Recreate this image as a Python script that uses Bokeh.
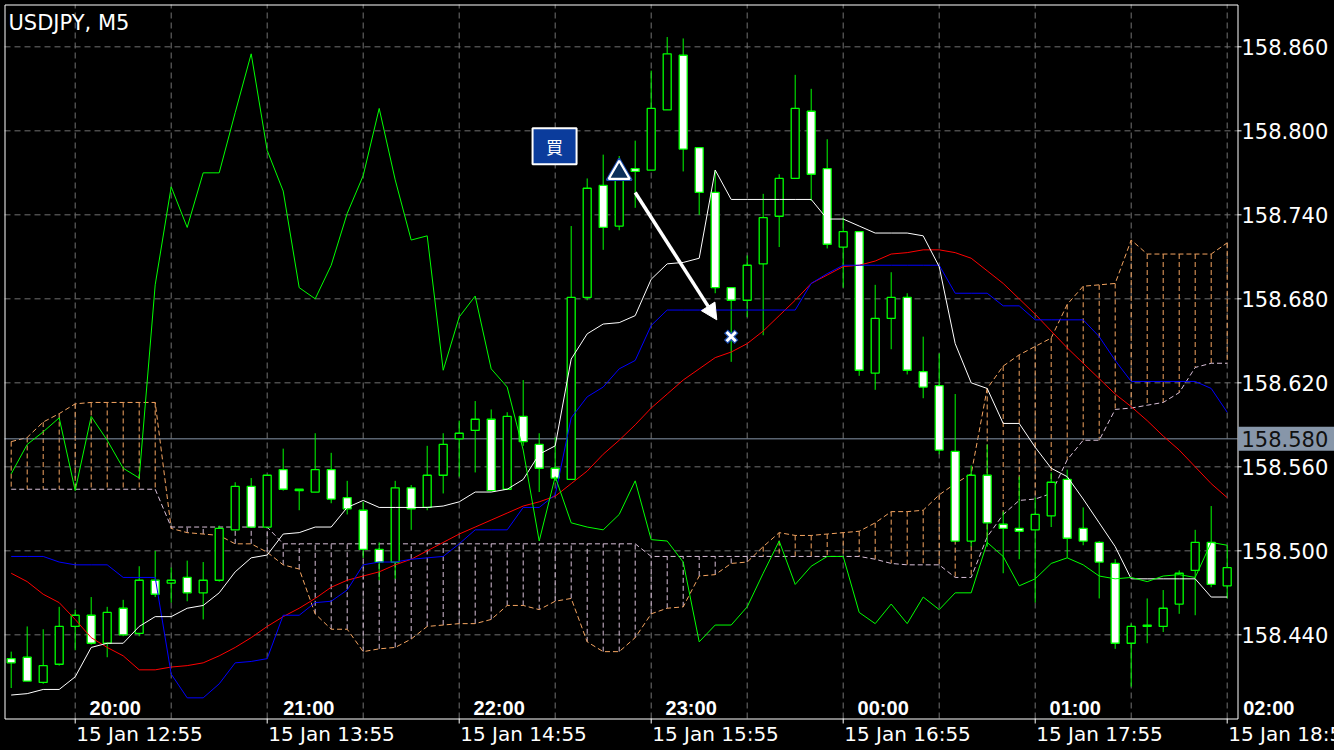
from bokeh.plotting import figure
from bokeh.models import Arrow, NormalHead, Range1d, GlobalInlineStyleSheet
from bokeh.core.properties import value
from bokeh.embed import file_html
from bokeh.resources import INLINE

symbol = "USDJPY, M5"
bar_idx = list(range(77))

opens = [158.423, 158.424, 158.406, 158.419, 158.446, 158.454, 158.434, 158.459, 158.441, 158.479,
         158.477, 158.481, 158.470, 158.479, 158.515, 158.546, 158.517, 158.558, 158.543, 158.542,
         158.558, 158.538, 158.529, 158.501, 158.492, 158.545, 158.531, 158.554, 158.580, 158.586,
         158.594, 158.544, 158.596, 158.576, 158.559, 158.551, 158.681, 158.761, 158.732, 158.773,
         158.772, 158.815, 158.854, 158.788, 158.756, 158.688, 158.679, 158.705, 158.739, 158.766,
         158.814, 158.773, 158.717, 158.728, 158.627, 158.666, 158.681, 158.628, 158.618, 158.571,
         158.507, 158.554, 158.519, 158.516, 158.515, 158.525, 158.551, 158.516, 158.506, 158.491,
         158.434, 158.446, 158.446, 158.462, 158.486, 158.506, 158.475]
highs = [158.428, 158.446, 158.444, 158.460, 158.458, 158.467, 158.460, 158.465, 158.489, 158.500,
         158.488, 158.493, 158.492, 158.518, 158.549, 158.552, 158.554, 158.573, 158.544, 158.584,
         158.570, 158.550, 158.535, 158.506, 158.550, 158.547, 158.575, 158.584, 158.593, 158.607,
         158.601, 158.599, 158.622, 158.584, 158.581, 158.732, 158.766, 158.783, 158.782, 158.793,
         158.843, 158.867, 158.866, 158.788, 158.772, 158.688, 158.711, 158.755, 158.769, 158.840,
         158.830, 158.794, 158.738, 158.728, 158.690, 158.699, 158.684, 158.653, 158.641, 158.612,
         158.561, 158.576, 158.528, 158.553, 158.538, 158.556, 158.558, 158.531, 158.507, 158.494,
         158.448, 158.466, 158.472, 158.486, 158.515, 158.532, 158.504]
lows = [158.402, 158.407, 158.405, 158.418, 158.429, 158.433, 158.424, 158.439, 158.439, 158.467,
        158.463, 158.464, 158.451, 158.478, 158.515, 158.517, 158.517, 158.543, 158.529, 158.542,
        158.534, 158.526, 158.495, 158.479, 158.480, 158.515, 158.529, 158.541, 158.553, 158.556,
        158.543, 158.544, 158.575, 158.542, 158.550, 158.551, 158.679, 158.715, 158.729, 158.745,
        158.772, 158.815, 158.771, 158.740, 158.684, 158.635, 158.667, 158.654, 158.717, 158.766,
        158.750, 158.716, 158.688, 158.625, 158.615, 158.644, 158.626, 158.609, 158.569, 158.507,
        158.503, 158.503, 158.484, 158.494, 158.463, 158.517, 158.495, 158.504, 158.466, 158.430,
        158.403, 158.434, 158.442, 158.455, 158.454, 158.474, 158.466]
closes = [158.420, 158.407, 158.418, 158.446, 158.454, 158.434, 158.456, 158.440, 158.479, 158.469,
          158.479, 158.470, 158.479, 158.516, 158.546, 158.517, 158.554, 158.544, 158.544, 158.558,
          158.537, 158.530, 158.501, 158.492, 158.545, 158.530, 158.554, 158.576, 158.584, 158.594,
          158.543, 158.596, 158.578, 158.559, 158.552, 158.681, 158.759, 158.731, 158.767, 158.771,
          158.816, 158.855, 158.787, 158.756, 158.688, 158.679, 158.704, 158.738, 158.766, 158.816,
          158.769, 158.719, 158.728, 158.629, 158.666, 158.681, 158.629, 158.617, 158.572, 158.507,
          158.554, 158.520, 158.516, 158.514, 158.526, 158.549, 158.509, 158.507, 158.492, 158.434,
          158.446, 158.447, 158.459, 158.484, 158.506, 158.476, 158.488]

tenkan = [158.397, 158.398, 158.401, 158.401, 158.410, 158.431, 158.434, 158.434, 158.446, 158.453,
          158.453, 158.459, 158.461, 158.470, 158.485, 158.495, 158.497, 158.512, 158.513, 158.517,
          158.517, 158.531, 158.536, 158.531, 158.531, 158.531, 158.531, 158.532, 158.535, 158.542,
          158.542, 158.544, 158.551, 158.569, 158.575, 158.637, 158.655, 158.662, 158.663, 158.668,
          158.694, 158.705, 158.706, 158.709, 158.772, 158.751, 158.751, 158.751, 158.751, 158.751,
          158.751, 158.737, 158.737, 158.732, 158.727, 158.727, 158.727, 158.725, 158.703, 158.648,
          158.620, 158.616, 158.591, 158.591, 158.574, 158.559, 158.553, 158.537, 158.520, 158.503,
          158.480, 158.480, 158.480, 158.480, 158.480, 158.467, 158.467]
kijun = [158.496, 158.496, 158.496, 158.492, 158.490, 158.490, 158.490, 158.481, 158.481, 158.481,
         158.412, 158.395, 158.395, 158.405, 158.420, 158.421, 158.423, 158.454, 158.454, 158.463,
         158.464, 158.472, 158.490, 158.492, 158.492, 158.494, 158.495, 158.496, 158.505, 158.515,
         158.515, 158.515, 158.531, 158.531, 158.540, 158.595, 158.610, 158.617, 158.630, 158.636,
         158.661, 158.672, 158.672, 158.672, 158.672, 158.672, 158.672, 158.672, 158.672, 158.672,
         158.691, 158.698, 158.704, 158.704, 158.704, 158.704, 158.704, 158.704, 158.704, 158.684,
         158.684, 158.684, 158.675, 158.675, 158.665, 158.665, 158.665, 158.665, 158.653, 158.636,
         158.621, 158.621, 158.621, 158.621, 158.621, 158.616, 158.599]
ma_red = [158.484, 158.478, 158.469, 158.463, 158.451, 158.438, 158.431, 158.425, 158.415, 158.415,
          158.417, 158.418, 158.420, 158.425, 158.431, 158.438, 158.446, 158.453, 158.459, 158.466,
          158.474, 158.479, 158.482, 158.485, 158.490, 158.494, 158.500, 158.506, 158.512, 158.517,
          158.522, 158.527, 158.532, 158.535, 158.539, 158.548, 158.557, 158.569, 158.579, 158.590,
          158.602, 158.612, 158.622, 158.630, 158.638, 158.642, 158.648, 158.657, 158.668, 158.679,
          158.691, 158.697, 158.703, 158.704, 158.707, 158.712, 158.713, 158.715, 158.715, 158.713,
          158.709, 158.700, 158.691, 158.680, 158.669, 158.657, 158.645, 158.634, 158.623, 158.612,
          158.603, 158.593, 158.582, 158.572, 158.560, 158.548, 158.538]
chikou = [158.555, 158.576, 158.585, 158.595, 158.543, 158.596, 158.579, 158.559, 158.552, 158.690,
          158.760, 158.731, 158.770, 158.770, 158.813, 158.855, 158.786, 158.757, 158.688, 158.680,
          158.704, 158.741, 158.768, 158.816, 158.765, 158.722, 158.725, 158.629, 158.667, 158.682,
          158.630, 158.617, 158.572, 158.507, 158.553, 158.520, 158.517, 158.515, 158.526, 158.550,
          158.508, 158.507, 158.492, 158.435, 158.447, 158.447, 158.460, 158.484, 158.507, 158.476,
          158.489, 158.496, 158.496, 158.456, 158.448, 158.462, 158.448, 158.467, 158.458, 158.470,
          158.470, 158.506, 158.496, 158.475, 158.480, 158.491, 158.495, 158.490, 158.482, 158.480,
          158.481, 158.478, 158.482, 158.483, 158.481, 158.506, 158.504]
span_a = [158.578, 158.581, 158.592, 158.598, 158.605, 158.606, 158.606, 158.606, 158.606, 158.606,
          158.516, 158.513, 158.512, 158.511, 158.505, 158.505, 158.499, 158.490, 158.487, 158.455,
          158.444, 158.444, 158.428, 158.430, 158.431, 158.437, 158.446, 158.447, 158.448, 158.448,
          158.451, 158.461, 158.461, 158.458, 158.464, 158.466, 158.435, 158.428, 158.428, 158.438,
          158.455, 158.459, 158.460, 158.482, 158.483, 158.491, 158.492, 158.503, 158.513, 158.511,
          158.511, 158.512, 158.513, 158.514, 158.520, 158.528, 158.528, 158.529, 158.540, 158.548,
          158.555, 158.616, 158.632, 158.640, 158.646, 158.652, 158.676, 158.689, 158.690, 158.691,
          158.722, 158.712, 158.712, 158.712, 158.712, 158.712, 158.720]
span_b = [158.544, 158.544, 158.544, 158.544, 158.544, 158.544, 158.544, 158.544, 158.544, 158.544,
          158.517, 158.517, 158.517, 158.517, 158.517, 158.517, 158.517, 158.505, 158.505, 158.505,
          158.505, 158.505, 158.505, 158.505, 158.505, 158.505, 158.505, 158.505, 158.505, 158.505,
          158.505, 158.505, 158.505, 158.505, 158.505, 158.505, 158.505, 158.505, 158.505, 158.505,
          158.496, 158.496, 158.496, 158.496, 158.496, 158.496, 158.496, 158.496, 158.496, 158.496,
          158.496, 158.496, 158.496, 158.496, 158.494, 158.491, 158.490, 158.490, 158.490, 158.481,
          158.481, 158.510, 158.526, 158.536, 158.537, 158.541, 158.565, 158.579, 158.579, 158.601,
          158.602, 158.604, 158.606, 158.613, 158.631, 158.634, 158.634]

price_ticks = [158.44, 158.50, 158.56, 158.62, 158.68, 158.74, 158.80, 158.86]
price_labels = ["158.440", "158.500", "158.560", "158.620", "158.680", "158.740", "158.800", "158.860"]
date_tick_idx = [4, 16, 28, 40, 52, 64, 76]
date_labels = ["15 Jan 12:55", "15 Jan 13:55", "15 Jan 14:55", "15 Jan 15:55",
               "15 Jan 16:55", "15 Jan 17:55", "15 Jan 18:55"]
grid_idx = [4, 10, 16, 22, 28, 34, 40, 46, 52, 58, 64, 70, 76]
local_pos = [6.5, 18.6, 30.5, 42.5, 54.5, 66.5, 78.6]
local_labels = ["20:00", "21:00", "22:00", "23:00", "00:00", "01:00", "02:00"]
last_price = 158.580
last_label = "158.580"
buy_idx, buy_price = 38, 158.770
exit_idx, exit_price = 45, 158.653
arrow_from = (39.0, 158.756)
arrow_to = (44.1, 158.665)
buy_box = (33.96, 158.789)

# ---- layout: chart window (bars / prices) and pixel scale ----
PXB = 16.0      # pixels per bar
PXP = 1400.0    # pixels per 1.0 of price
X_LO, X_HI = -0.41875, 76.64375
P_LO, P_HI = 158.380243, 158.890243
W, H = 1334, 750
M_L, M_R, M_T, M_B = 4, 97, 4, 32   # canvas margins around the chart window


def dx(px):
    return px / PXB


def dp(px):
    return px / PXP


GREEN = "#00ff00"
ORANGE = "#f4a460"
THISTLE = "#d8bfd8"
GRID = "#707070"

p = figure(width=W, height=H, output_backend="svg", toolbar_location=None,
           x_range=Range1d(X_LO - dx(M_L), X_HI + dx(M_R)),
           y_range=Range1d(P_LO - dp(M_B), P_HI + dp(M_T)),
           x_axis_location=None, y_axis_location=None, title_location=None,
           background_fill_color="black", border_fill_color="black",
           outline_line_color=None, min_border=0)
p.xgrid.visible = False
p.ygrid.visible = False
p.stylesheets = [GlobalInlineStyleSheet(css="html, body { background: #000000; }")]

# grid (dashed)
p.segment(x0=[X_LO] * len(price_ticks), y0=price_ticks, x1=[X_HI] * len(price_ticks), y1=price_ticks,
          line_color=GRID, line_dash="6 4", line_width=1)
p.segment(x0=grid_idx, y0=[P_LO] * len(grid_idx), x1=grid_idx, y1=[P_HI] * len(grid_idx),
          line_color=GRID, line_dash="6 4", line_width=1)

# Ichimoku cloud
hatch_colors = [ORANGE if a > b else THISTLE for a, b in zip(span_a, span_b)]
p.segment(x0=bar_idx, y0=span_a, x1=bar_idx, y1=span_b, line_color=hatch_colors,
          line_dash="5 3", line_width=1)
p.line(bar_idx, span_a, line_color=ORANGE, line_dash="5 3", line_width=1)
p.line(bar_idx, span_b, line_color=THISTLE, line_dash="5 3", line_width=1)

# bid line
p.segment(x0=[X_LO], y0=[last_price], x1=[X_HI], y1=[last_price], line_color="#8796a9", line_width=1)

# candles
body_top = [max(o, c) for o, c in zip(opens, closes)]
body_bot = [min(o, c) for o, c in zip(opens, closes)]
body_fill = ["black" if c >= o else "white" for o, c in zip(opens, closes)]
p.segment(x0=bar_idx, y0=lows, x1=bar_idx, y1=highs, line_color=GREEN, line_width=1)
p.vbar(x=bar_idx, width=0.5, top=body_top, bottom=body_bot, fill_color=body_fill,
       line_color=GREEN, line_width=1.3)

# indicator lines
p.line(bar_idx, ma_red, line_color="#ff0000", line_width=1)
p.line(bar_idx, kijun, line_color="#0000ff", line_width=1)
p.line(bar_idx, tenkan, line_color="#ffffff", line_width=1)
p.line(bar_idx, chikou, line_color=GREEN, line_width=1)

# trade marks
p.add_layout(Arrow(end=NormalHead(size=16, fill_color="white", line_color="white"),
                   x_start=arrow_from[0], y_start=arrow_from[1],
                   x_end=arrow_to[0], y_end=arrow_to[1],
                   line_color="white", line_width=3.5))
p.scatter([buy_idx], [buy_price], marker="triangle", size=25, fill_color=None,
          line_color="#1d4fb0", line_width=2)
p.scatter([buy_idx], [buy_price], marker="triangle", size=21, fill_color="#0b2f5a",
          line_color="white", line_width=2.2)
p.scatter([exit_idx], [exit_price], marker="x", size=15, line_color="#1d4fb0", line_width=5.5)
p.scatter([exit_idx], [exit_price], marker="x", size=13, line_color="white", line_width=3)
p.rect(x=[buy_box[0]], y=[buy_box[1]], width=44, height=36, width_units="screen",
       height_units="screen", fill_color="#0b3c9c", line_color="white", line_width=2)
p.text(x=[buy_box[0]], y=[buy_box[1]], text=["買"], text_align="center", text_baseline="middle",
       text_color="white", text_font=value("Noto Sans CJK JP"), text_font_size="17px")

# chart border
p.quad(left=[X_LO + dx(0.5)], right=[X_HI + dx(0.5)], top=[P_HI - dp(0.5)], bottom=[P_LO - dp(0.5)],
       fill_color=None, line_color="white", line_width=1)

# price scale (right)
p.segment(x0=[X_HI] * len(price_ticks), y0=price_ticks, x1=[X_HI + dx(4)] * len(price_ticks),
          y1=price_ticks, line_color="white", line_width=1)
p.text(x=[X_HI + dx(4)] * len(price_ticks), y=price_ticks, text=price_labels,
       text_align="left", text_baseline="middle", text_color="white",
       text_font=value("DejaVu Sans"), text_font_size="21px")

# current price box
p.quad(left=[X_HI + dx(0.5)], right=[X_HI + dx(M_R)], top=[last_price + dp(12)],
       bottom=[last_price - dp(12)], fill_color="#8796a9", line_color=None)
p.text(x=[X_HI + dx(4)], y=[last_price], text=[last_label], text_align="left",
       text_baseline="middle", text_color="#101010",
       text_font=value("DejaVu Sans"), text_font_size="21px")

# time scale (bottom)
p.segment(x0=date_tick_idx, y0=[P_LO] * len(date_tick_idx), x1=date_tick_idx,
          y1=[P_LO - dp(5)] * len(date_tick_idx), line_color="white", line_width=1)
p.text(x=[t + dx(1) for t in date_tick_idx], y=[P_LO - dp(15)] * len(date_tick_idx), text=date_labels,
       text_align="left", text_baseline="middle", text_color="white",
       text_font=value("DejaVu Sans"), text_font_size="20px")
p.text(x=local_pos, y=[P_LO + dp(10.5)] * len(local_pos), text=local_labels,
       text_align="center", text_baseline="middle", text_color="white",
       text_font=value("Liberation Sans"), text_font_style="bold", text_font_size="20px")

# symbol caption
p.text(x=[X_LO + dx(4)], y=[P_HI - dp(18.5)], text=[symbol], text_align="left",
       text_baseline="middle", text_color="white",
       text_font=value("DejaVu Sans"), text_font_size="21px")

open("out.html", "w").write(file_html(p, INLINE))
